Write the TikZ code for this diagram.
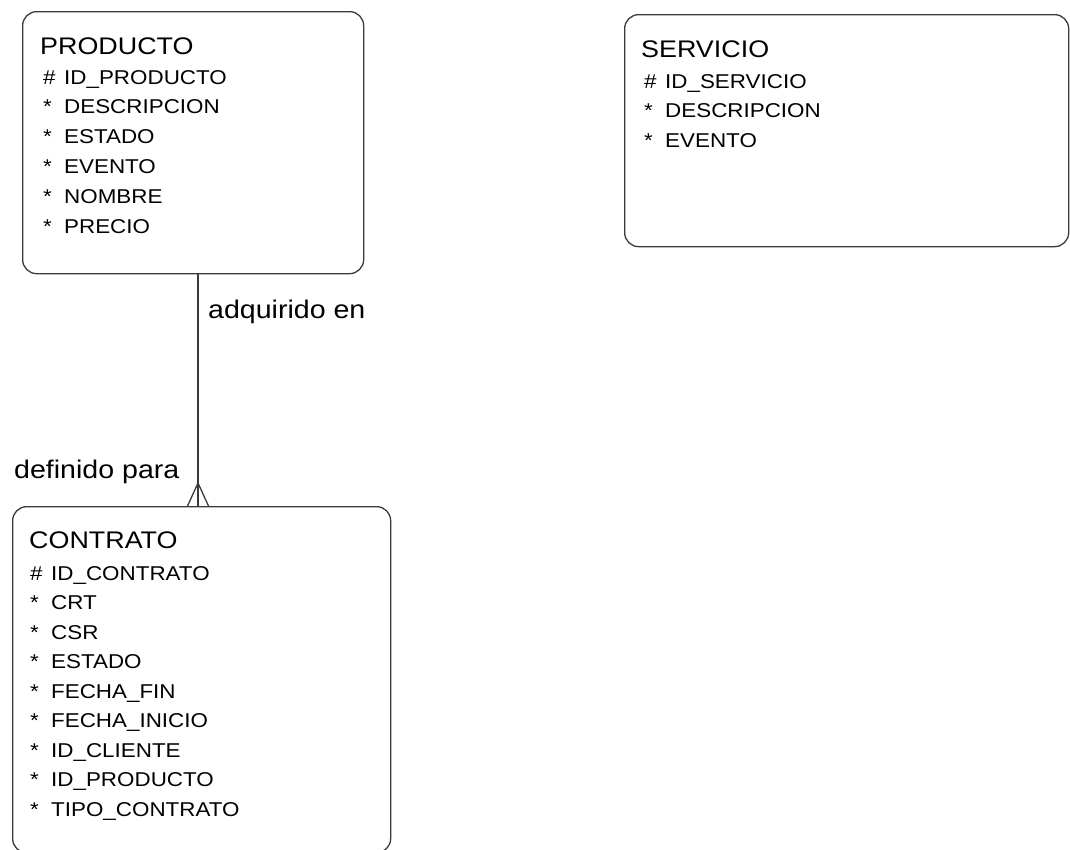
\documentclass[tikz,border=0pt]{standalone}
\usepackage{fontspec}
\newfontfamily\arialx[FakeStretch=1.12]{Liberation Sans}
\newcommand\ttlfont{\arialx\fontsize{24}{28}\selectfont}
\newcommand\attfont{\arialx\fontsize{20}{24}\selectfont}
\newcommand\lblfont{\arialx\fontsize{25.5}{30}\selectfont}
\newcommand\mk[1]{\makebox[21pt][l]{#1}}
\definecolor{lc}{HTML}{3A3A3A}
\begin{document}
\begin{tikzpicture}[x=1pt,y=-1pt,
  ent/.style={draw=lc, line width=1.3pt, rounded corners=14pt, anchor=north west, inner sep=0pt},
  ttl/.style={anchor=base west, inner sep=0pt, font=\ttlfont},
  att/.style={anchor=base west, inner sep=0pt, font=\attfont},
  lbl/.style={anchor=base west, inner sep=0pt, font=\lblfont},
  rel/.style={draw=lc, line width=1.3pt}]
\useasboundingbox (0,0) rectangle (1070,849);

% PRODUCTO
\node[ent, minimum width=341pt, minimum height=262pt] (prod) at (22,11) {};
\node[ttl] (prodt) at (40,54) {PRODUCTO};
\foreach \t [count=\i from 0] in {{\mk{\#}ID\_PRODUCTO},{\mk{*}DESCRIPCION},{\mk{*}ESTADO},{\mk{*}EVENTO},{\mk{*}NOMBRE},{\mk{*}PRECIO}}
  \node[att] (proda\i) at (43,{84+29.8*\i}) {\t};

% SERVICIO
\node[ent, minimum width=444pt, minimum height=232pt] (serv) at (624,14) {};
\node[ttl] (servt) at (641,57) {SERVICIO};
\foreach \t [count=\i from 0] in {{\mk{\#}ID\_SERVICIO},{\mk{*}DESCRIPCION},{\mk{*}EVENTO}}
  \node[att] (serva\i) at (644,{88+29.5*\i}) {\t};

% CONTRATO
\node[ent, minimum width=378pt, minimum height=346pt] (cont) at (12,506) {};
\node[ttl] (contt) at (29,548) {CONTRATO};
\foreach \t [count=\i from 0] in {{\mk{\#}ID\_CONTRATO},{\mk{*}CRT},{\mk{*}CSR},{\mk{*}ESTADO},{\mk{*}FECHA\_FIN},{\mk{*}FECHA\_INICIO},{\mk{*}ID\_CLIENTE},{\mk{*}ID\_PRODUCTO},{\mk{*}TIPO\_CONTRATO}}
  \node[att] (conta\i) at (30,{580+29.5*\i}) {\t};

% relationship
\coordinate (fx) at (198,0);
\coordinate (apex) at (198,483);
\draw[rel] (fx |- prod.south) -- (fx |- cont.north);
\draw[rel] ([xshift=-10.5pt]fx |- cont.north) -- (apex) -- ([xshift=10.5pt]fx |- cont.north);
\node[lbl] (l1) at (208,318) {adquirido en};
\node[lbl] (l2) at (14,478) {definido para};
\end{tikzpicture}
\end{document}
